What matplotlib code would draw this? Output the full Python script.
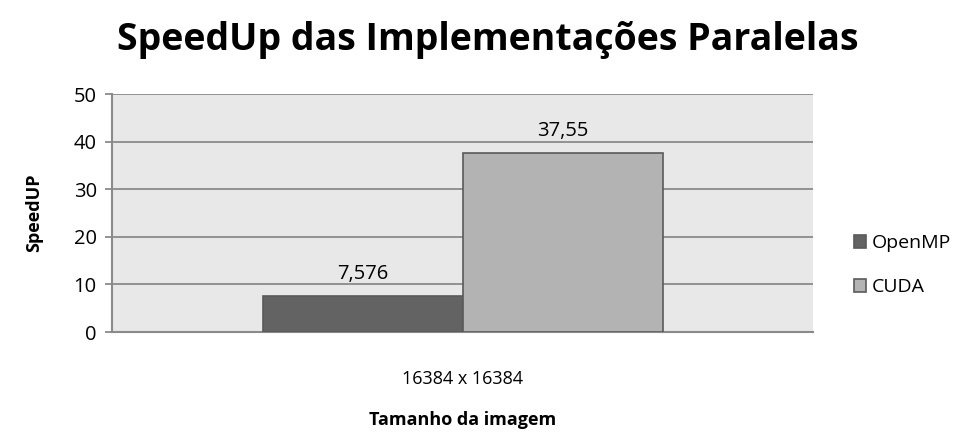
import numpy as np
import matplotlib.pyplot as plt

plt.rcParams['font.family'] = ['Open Sans', 'DejaVu Sans']

category = "16384 x 16384"
series = ["OpenMP", "CUDA"]
values = [7.576, 37.55]
value_labels = ["7,576", "37,55"]
colors = ["#636363", "#b3b3b3"]

fig = plt.figure(figsize=(9.75, 4.42), dpi=100)
ax = fig.add_axes([112/975, 1 - 332/442, 701/975, 238/442])
ax.set_facecolor("#e8e8e8")

w = 200/701
offsets = [-w/2, w/2]
handles = []
for i in range(len(series)):
    b = ax.bar(offsets[i], values[i], width=w, color=colors[i],
               edgecolor="#5a5a5a", linewidth=1.2, label=series[i], zorder=3)
    handles.append(b)
    ax.text(offsets[i], values[i] + 2.5, value_labels[i], ha="center",
            va="bottom", fontsize=14.5)

ax.set_xlim(-0.5, 0.5)
ax.set_ylim(0, 50)
ax.set_yticks(np.arange(0, 51, 10))
ax.yaxis.grid(True, color="#8a8a8a", linewidth=1.3, zorder=0)
ax.set_axisbelow(True)
ax.set_xticks([0])
ax.set_xticklabels([category], fontsize=13)
ax.tick_params(axis="x", length=0, pad=27)
ax.tick_params(axis="y", length=5, color="#8a8a8a", width=1.3, labelsize=14.5, pad=6)
for s in ["top", "right"]:
    ax.spines[s].set_visible(False)
for s in ["left", "bottom"]:
    ax.spines[s].set_color("#8a8a8a")
    ax.spines[s].set_linewidth(1.5)

ax.set_ylabel("SpeedUP", fontsize=13, fontweight="bold", labelpad=22)
ax.set_xlabel("Tamanho da imagem", fontsize=13, fontweight="bold", labelpad=17)
fig.text(0.5, 1 - 40/442, "SpeedUp das Implementações Paralelas",
         ha="center", va="center", fontsize=27, fontweight="bold")

ax.legend(handles=handles, loc="center left", bbox_to_anchor=(1.033, 0.28),
          frameon=False, fontsize=14, handlelength=0.65, handleheight=0.65,
          handletextpad=0.3, labelspacing=1.35)

fig.savefig("out.png", dpi=100)
